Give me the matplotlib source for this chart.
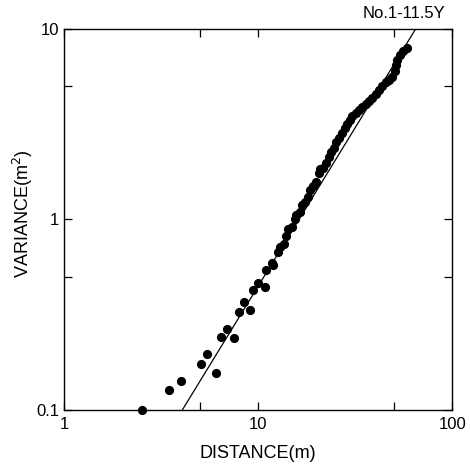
import numpy as np
from matplotlib import pyplot as plt
from matplotlib.ticker import FixedLocator, NullFormatter

plt.rcParams['font.family'] = ['Liberation Sans', 'DejaVu Sans']

# measured points (distance m, variance m^2)
distance = [2.53, 3.48, 3.99, 5.06, 5.46, 6.05, 6.42, 6.95, 7.49, 7.98,
            8.44, 9.09, 9.42, 10.0, 10.87, 11.04, 11.86, 11.98, 12.68, 12.93,
            13.56, 13.89, 14.33, 14.92, 15.52, 15.77, 16.53, 16.93, 17.4, 18.04,
            18.62, 19.2, 19.8, 20.5, 20.9, 21.6, 22.3, 23.1, 23.8, 24.5,
            25.3, 26.2, 27.0, 27.9, 28.8, 29.7, 30.6, 31.9, 33.2, 34.5,
            35.9, 37.3, 38.8, 40.4, 42.0, 43.7, 45.5, 47.3, 49.2, 50.6,
            51.3, 52.0, 53.7, 55.9, 58.2]
variance = [0.100, 0.127, 0.142, 0.175, 0.196, 0.156, 0.241, 0.265, 0.240, 0.326,
            0.368, 0.335, 0.426, 0.462, 0.445, 0.540, 0.594, 0.575, 0.673, 0.721,
            0.741, 0.820, 0.889, 0.918, 1.00, 1.06, 1.10, 1.19, 1.24, 1.32,
            1.43, 1.50, 1.58, 1.75, 1.84, 1.86, 1.98, 2.13, 2.25, 2.37,
            2.54, 2.68, 2.84, 3.02, 3.18, 3.34, 3.48, 3.62, 3.77, 3.89,
            4.05, 4.19, 4.32, 4.54, 4.76, 5.00, 5.25, 5.42, 5.60, 6.00,
            6.50, 6.90, 7.33, 7.64, 7.94]

# fitted power law: variance = 0.1 * (distance / x0)**slope
x0 = 4.07
slope = 1.663
fit_x = [4.07, 65.0]

fig = plt.figure(figsize=(4.70, 4.66), dpi=100)
ax = fig.add_axes([0.136, 0.120, 0.826, 0.818])

fx = np.array(fit_x)
ax.plot(fx, 0.1*(fx/x0)**slope, 'k-', linewidth=0.9)
ax.plot(distance, variance, 'ko', markersize=5.6, clip_on=False)

ax.set_xscale('log')
ax.set_yscale('log')
ax.set_xlim(1, 100)
ax.set_ylim(0.1, 10)

ax.xaxis.set_major_locator(FixedLocator([1, 10, 100]))
ax.xaxis.set_minor_locator(FixedLocator([5, 50]))
ax.yaxis.set_major_locator(FixedLocator([0.1, 1, 10]))
ax.yaxis.set_minor_locator(FixedLocator([0.5, 5]))
ax.set_xticklabels(['1', '10', '100'])
ax.set_yticklabels(['0.1', '1', '10'])
ax.xaxis.set_minor_formatter(NullFormatter())
ax.yaxis.set_minor_formatter(NullFormatter())
ax.tick_params(which='both', direction='in', top=True, right=True,
               length=6, width=0.9, labelsize=12)
ax.tick_params(axis='x', pad=5)

for s in ax.spines.values():
    s.set_linewidth(1.0)

ax.set_xlabel('DISTANCE(m)', fontsize=13, labelpad=9)
ax.set_ylabel('VARIANCE(m$^2$)', fontsize=13, labelpad=3)
ax.yaxis.set_label_coords(-0.075, 0.515)
fig.text(0.947, 0.972, 'No.1-11.5Y', ha='right', va='center', fontsize=12)

plt.savefig('out.png', dpi=100)
plt.close()
